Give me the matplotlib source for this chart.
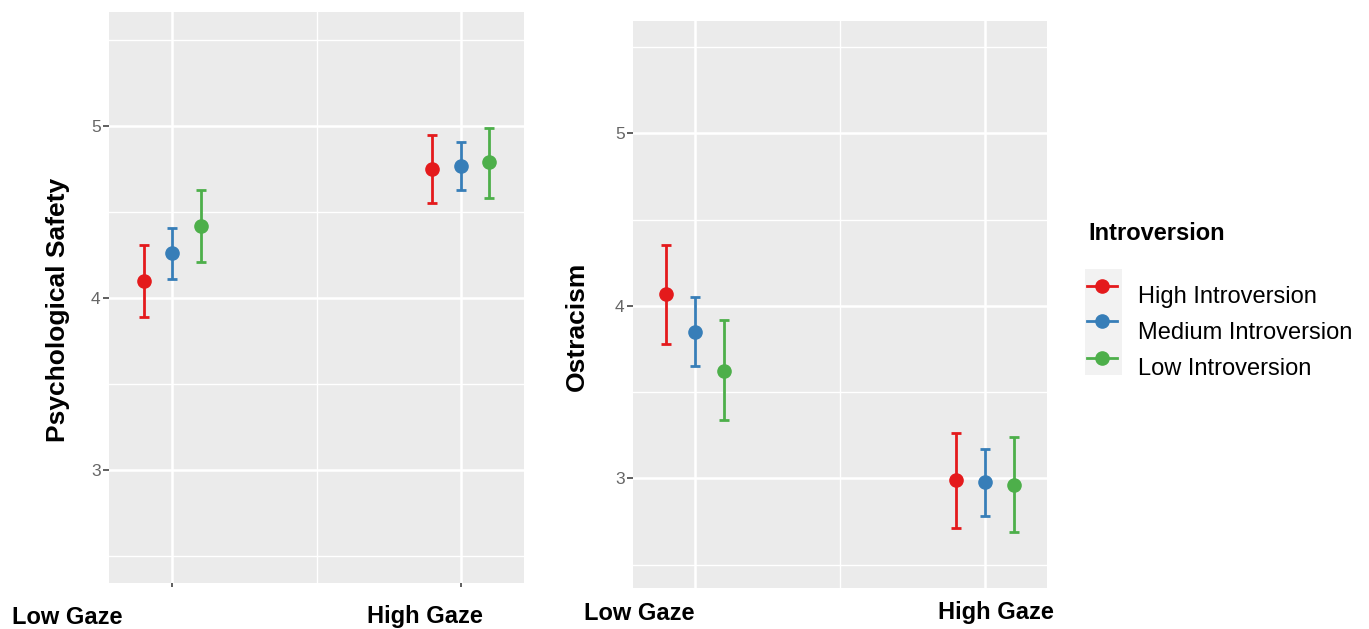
import matplotlib.pyplot as plt
import numpy as np

plt.rcParams['font.family'] = ['Liberation Sans', 'DejaVu Sans']

# group labels and dodge order
gaze = ['Low Gaze', 'High Gaze']
groups = ['High Introversion', 'Medium Introversion', 'Low Introversion']
colors = ['#E41A1C', '#377EB8', '#4DAF4A']

# Psychological Safety: means and CI bounds per group, [low gaze, high gaze]
safety_mean = [[4.10, 4.75], [4.26, 4.77], [4.42, 4.79]]
safety_low = [[3.89, 4.55], [4.11, 4.63], [4.21, 4.58]]
safety_high = [[4.31, 4.95], [4.41, 4.91], [4.63, 4.99]]

# Ostracism
ostr_mean = [[4.07, 2.99], [3.85, 2.98], [3.62, 2.96]]
ostr_low = [[3.78, 2.71], [3.65, 2.78], [3.34, 2.69]]
ostr_high = [[4.35, 3.26], [4.05, 3.17], [3.92, 3.24]]

W, H = 1369, 629
fig = plt.figure(figsize=(W / 100, H / 100), dpi=100)


def px_axes(x0, y0, x1, y1):
    return fig.add_axes([x0 / W, 1 - y1 / H, (x1 - x0) / W, (y1 - y0) / H])


def panel(ax, mean, lo, hi, ylim, xlim, xticks_on):
    ax.set_facecolor('#EBEBEB')
    for s in ax.spines.values():
        s.set_visible(False)
    ax.set_xlim(*xlim)
    ax.set_ylim(*ylim)
    for y in [2.5, 3.5, 4.5, 5.5]:
        ax.axhline(y, color='white', lw=1.0, zorder=0)
    for y in [3, 4, 5]:
        ax.axhline(y, color='white', lw=1.8, zorder=0)
    ax.axvline(1.5, color='white', lw=1.0, zorder=0)
    for x in [1, 2]:
        ax.axvline(x, color='white', lw=1.8, zorder=0)
    xs = np.arange(1, len(gaze) + 1)
    for i, c in enumerate(colors):
        off = (i - 1) * 0.1
        m = np.array(mean[i])
        ax.errorbar(xs + off, m, yerr=[m - np.array(lo[i]), np.array(hi[i]) - m],
                    fmt='o', color=c, ms=9.5, elinewidth=2.0, capsize=3.6,
                    capthick=2.0, zorder=3)
    ax.set_yticks([3, 4, 5])
    ax.set_yticklabels(['3', '4', '5'])
    ax.tick_params(axis='y', length=4, width=1.2, color='#444444',
                   labelcolor='#666666', labelsize=12.5, pad=2)
    ax.set_xticks([1, 2])
    ax.set_xticklabels([])
    if xticks_on:
        ax.tick_params(axis='x', length=3, width=1.2, color='#444444')
    else:
        ax.tick_params(axis='x', length=0)


ax1 = px_axes(109, 12, 524, 583)
panel(ax1, safety_mean, safety_low, safety_high, (2.343, 5.663), (0.78, 2.22), True)

ax2 = px_axes(633, 21, 1047, 588)
panel(ax2, ostr_mean, ostr_low, ostr_high, (2.364, 5.651), (0.785, 2.215), False)

# overlay for labels and legend, in pixel units
ov = fig.add_axes([0, 0, 1, 1], zorder=5)
ov.set_xlim(0, W)
ov.set_ylim(H, 0)
ov.axis('off')

ov.text(58, 310, 'Psychological Safety', rotation=90, ha='center', va='center',
        fontsize=19, fontweight='bold')
ov.text(577, 326, 'Ostracism', rotation=90, ha='center', va='center',
        fontsize=19, fontweight='bold')
ov.text(12, 617, gaze[0], ha='left', va='center', fontsize=17, fontweight='bold')
ov.text(367, 617, gaze[1], ha='left', va='center', fontsize=17, fontweight='bold')
ov.text(584, 613, gaze[0], ha='left', va='center', fontsize=17, fontweight='bold')
ov.text(938, 613, gaze[1], ha='left', va='center', fontsize=17, fontweight='bold')

# legend
ov.text(1088, 234, 'Introversion', ha='left', va='center', fontsize=17, fontweight='bold')
ov.add_patch(plt.Rectangle((1085, 269), 37, 106, color='#F2F2F2', lw=0))
key_y = [286, 321, 358]
text_y = [297, 333, 369]
for c, g, ky, ty in zip(colors, groups, key_y, text_y):
    ov.plot([1087, 1117], [ky, ky], color=c, lw=2.0)
    ov.plot([1102], [ky], 'o', color=c, ms=9.5)
    ov.text(1138, ty, g, ha='left', va='center', fontsize=17)

fig.savefig('out.png', dpi=100)
